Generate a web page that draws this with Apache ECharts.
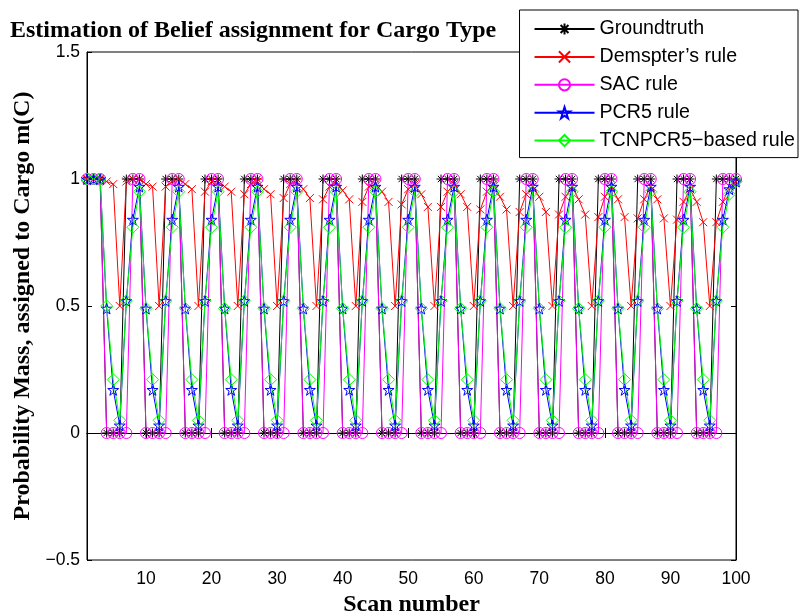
<!DOCTYPE html>
<html>
<head>
<meta charset="utf-8">
<script src="https://cdn.jsdelivr.net/npm/echarts@6/dist/echarts.min.js"></script>
<style>
html, body { margin: 0; padding: 0; background: #fff; }
#main { width: 800px; height: 616px; }
</style>
</head>
<body>
<div id="main"></div>
<script>
// tick labels
var xTicks = [10, 20, 30, 40, 50, 60, 70, 80, 90, 100];
var yTicks = [-0.5, 0, 0.5, 1, 1.5];

// series values, one per scan (1..100)
var groundtruth = [
  1,1,1,0,0,0, 1,1,1,0,0,0, 1,1,1,0,0,0, 1,1,1,0,0,0,
  1,1,1,0,0,0, 1,1,1,0,0,0, 1,1,1,0,0,0, 1,1,1,0,0,0,
  1,1,1,0,0,0, 1,1,1,0,0,0, 1,1,1,0,0,0, 1,1,1,0,0,0,
  1,1,1,0,0,0, 1,1,1,0,0,0, 1,1,1,0,0,0, 1,1,1,0,0,0,
  1,1,1,1
];
var dempster = [
  1,1,1,0.99,0.98,0.5,
  0.99,1,1,0.98,0.97,0.5,
  0.97,0.99,1,0.98,0.96,0.5,
  0.95,0.99,0.99,0.97,0.95,0.5,
  0.94,0.98,0.99,0.96,0.94,0.5,
  0.925,0.98,0.99,0.96,0.925,0.5,
  0.92,0.97,0.99,0.955,0.92,0.5,
  0.91,0.97,0.98,0.95,0.91,0.5,
  0.90,0.96,0.98,0.94,0.89,0.5,
  0.89,0.95,0.98,0.94,0.89,0.5,
  0.88,0.95,0.98,0.93,0.88,0.5,
  0.87,0.94,0.97,0.93,0.87,0.5,
  0.86,0.93,0.97,0.92,0.86,0.5,
  0.85,0.93,0.97,0.92,0.85,0.5,
  0.845,0.92,0.97,0.92,0.845,0.5,
  0.84,0.91,0.96,0.91,0.83,0.5,
  0.83,0.91,0.97,0.99
];
var sac = [
  1,1,1,0,0,0, 0,1,1,0,0,0, 0,1,1,0,0,0, 0,1,1,0,0,0,
  0,1,1,0,0,0, 0,1,1,0,0,0, 0,1,1,0,0,0, 0,1,1,0,0,0,
  0,1,1,0,0,0, 0,1,1,0,0,0, 0,1,1,0,0,0, 0,1,1,0,0,0,
  0,1,1,0,0,0, 0,1,1,0,0,0, 0,1,1,0,0,0, 0,1,1,0,0,0,
  0,1,1,1
];
var pcr5 = [
  1,1,1,0.49,0.17,0.03,
  0.52,0.84,0.97,0.49,0.17,0.03,
  0.52,0.84,0.97,0.49,0.17,0.03,
  0.52,0.84,0.97,0.49,0.17,0.03,
  0.52,0.84,0.97,0.49,0.17,0.03,
  0.52,0.84,0.97,0.49,0.17,0.03,
  0.52,0.84,0.97,0.49,0.17,0.03,
  0.52,0.84,0.97,0.49,0.17,0.03,
  0.52,0.84,0.97,0.49,0.17,0.03,
  0.52,0.84,0.97,0.49,0.17,0.03,
  0.52,0.84,0.97,0.49,0.17,0.03,
  0.52,0.84,0.97,0.49,0.17,0.03,
  0.52,0.84,0.97,0.49,0.17,0.03,
  0.52,0.84,0.97,0.49,0.17,0.03,
  0.52,0.84,0.97,0.49,0.17,0.03,
  0.52,0.84,0.97,0.49,0.17,0.03,
  0.52,0.84,0.96,0.99
];
var tcnpcr5 = [
  1,1,1,0.5,0.21,0.05,
  0.52,0.81,0.95,0.49,0.21,0.05,
  0.52,0.81,0.95,0.49,0.21,0.05,
  0.52,0.81,0.95,0.49,0.21,0.05,
  0.52,0.81,0.95,0.49,0.21,0.05,
  0.52,0.81,0.95,0.49,0.21,0.05,
  0.52,0.81,0.95,0.49,0.21,0.05,
  0.52,0.81,0.95,0.49,0.21,0.05,
  0.52,0.81,0.95,0.49,0.21,0.05,
  0.52,0.81,0.95,0.49,0.21,0.05,
  0.52,0.81,0.95,0.49,0.21,0.05,
  0.52,0.81,0.95,0.49,0.21,0.05,
  0.52,0.81,0.95,0.49,0.21,0.05,
  0.52,0.81,0.95,0.49,0.21,0.05,
  0.52,0.81,0.95,0.49,0.21,0.05,
  0.52,0.81,0.95,0.49,0.21,0.05,
  0.52,0.81,0.94,0.99
];
var names = ['Groundtruth', 'Demspter\u2019s rule', 'SAC rule', 'PCR5 rule', 'TCNPCR5\u2212based rule'];

// marker shapes (matlab style, unfilled)
var markStar = 'path://M0,-1L0,1M-1,0L1,0M-0.7,-0.7L0.7,0.7M-0.7,0.7L0.7,-0.7';
var markX = 'path://M-1,-1L1,1M-1,1L1,-1';
var markCircle = 'path://M-1,0A1,1,0,1,1,1,0A1,1,0,1,1,-1,0Z';
var markPenta = 'path://M0,-1L0.2245,-0.309L0.951,-0.309L0.363,0.118L0.588,0.809L0,0.382L-0.588,0.809L-0.363,0.118L-0.951,-0.309L-0.2245,-0.309Z';
var markDiamond = 'path://M0,-1L1,0L0,1L-1,0Z';

function pairs(arr) {
  return arr.map(function (v, i) { return [i + 1, v]; });
}

function mkSeries(name, arr, color, symbol, size) {
  return {
    name: name,
    type: 'line',
    data: pairs(arr),
    symbol: symbol,
    symbolSize: size,
    showAllSymbol: true,
    lineStyle: { color: color, width: 1 },
    itemStyle: { color: 'none', borderColor: color, borderWidth: 1 },
    emphasis: { disabled: true }
  };
}

var serifBold = { fontFamily: 'Liberation Serif', fontWeight: 'bold', fontSize: 24, color: '#000' };

var options = {
  animation: false,
  title: {
    text: 'Estimation of Belief assignment for Cargo Type',
    left: 5,
    top: 14,
    textStyle: serifBold
  },
  legend: {
    data: names,
    orient: 'vertical',
    right: 2,
    top: 10,
    padding: [9, 3, 7, 14],
    itemWidth: 60,
    itemHeight: 14,
    itemGap: 7.9,
    backgroundColor: '#fff',
    borderColor: '#000',
    borderWidth: 1,
    textStyle: { fontFamily: 'Liberation Sans', fontSize: 19.6, lineHeight: 19, color: '#000' }
  },
  grid: {
    left: 87, right: 64, top: 52, bottom: 56,
    outerBoundsMode: 'none',
    show: true, borderColor: '#000', borderWidth: 1
  },
  xAxis: [{
    type: 'value',
    min: 1,
    max: 100,
    name: 'Scan number',
    nameLocation: 'middle',
    nameGap: 33,
    nameTextStyle: serifBold,
    axisLine: { lineStyle: { color: '#000' } },
    axisTick: { inside: true, length: 5, customValues: xTicks, lineStyle: { color: '#000' } },
    axisLabel: { customValues: xTicks, margin: 10, fontFamily: 'Liberation Sans', fontSize: 17.5, color: '#000' },
    splitLine: { show: false }
  }, {
    type: 'value',
    position: 'top',
    min: 1,
    max: 100,
    axisLine: { lineStyle: { color: '#000' } },
    axisTick: { inside: true, length: 5, customValues: xTicks, lineStyle: { color: '#000' } },
    axisLabel: { show: false },
    splitLine: { show: false }
  }],
  yAxis: [{
    type: 'value',
    min: yTicks[0],
    max: yTicks[yTicks.length - 1],
    interval: 0.5,
    name: 'Probability Mass, assigned to Cargo m(C)',
    nameLocation: 'middle',
    nameGap: 50,
    nameTextStyle: serifBold,
    axisLine: { show: true, lineStyle: { color: '#000' } },
    axisTick: { show: true, inside: true, length: 5, lineStyle: { color: '#000' } },
    axisLabel: {
      margin: 7, fontFamily: 'Liberation Sans', fontSize: 17.5, color: '#000',
      formatter: function (v) { return String(v).replace('-', '\u2212'); }
    },
    splitLine: { show: false }
  }, {
    type: 'value',
    position: 'right',
    min: yTicks[0],
    max: yTicks[yTicks.length - 1],
    interval: 0.5,
    axisLine: { show: true, lineStyle: { color: '#000' } },
    axisTick: { show: true, inside: true, length: 5, lineStyle: { color: '#000' } },
    axisLabel: { show: false },
    splitLine: { show: false }
  }],
  series: [
    mkSeries(names[0], groundtruth, '#000000', markStar, 9),
    mkSeries(names[1], dempster, '#ff0000', markX, 8),
    mkSeries(names[2], sac, '#ff00ff', markCircle, 11),
    mkSeries(names[3], pcr5, '#0000ff', markPenta, 11),
    mkSeries(names[4], tcnpcr5, '#00ff00', markDiamond, 12)
  ]
};

var myChart = echarts.init(document.getElementById('main'));
myChart.setOption(options);
</script>
</body>
</html>
